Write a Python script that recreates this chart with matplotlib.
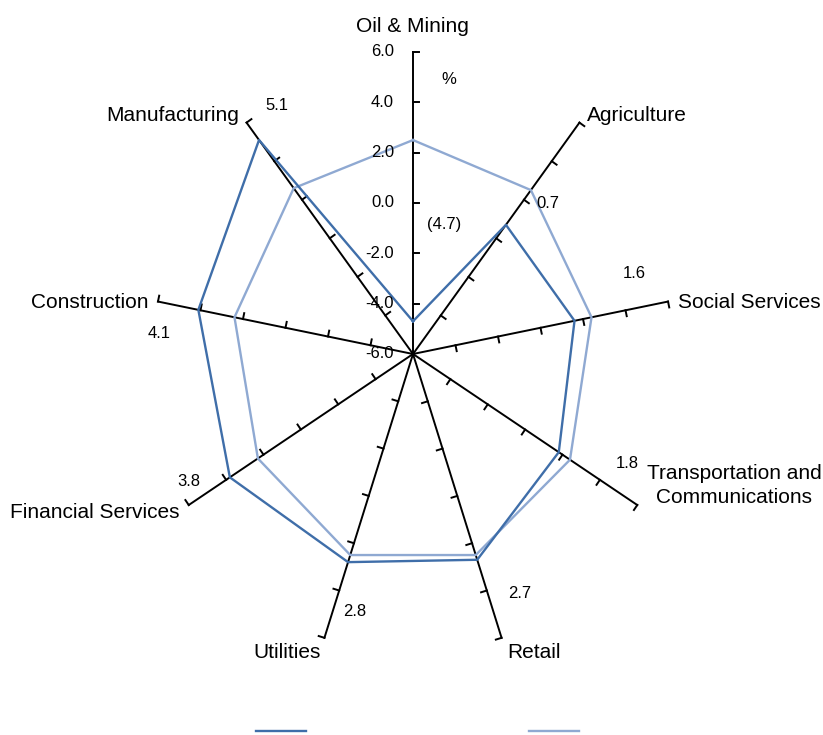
import numpy as np
import matplotlib.pyplot as plt
from matplotlib.lines import Line2D

plt.rcParams['font.family'] = ['Liberation Sans', 'DejaVu Sans']

# data
categories = ['Oil & Mining', 'Agriculture', 'Social Services',
               'Transportation and\nCommunications', 'Retail', 'Utilities',
               'Financial Services', 'Construction', 'Manufacturing']
series_dark = [-4.7, 0.7, 1.6, 1.8, 2.7, 2.8, 3.8, 4.1, 5.1]
series_light = [2.5, 2.5, 2.4, 2.4, 2.5, 2.5, 2.3, 2.4, 2.6]
scale_ticks = [-6.0, -4.0, -2.0, 0.0, 2.0, 4.0, 6.0]
rmin, rmax = -6.0, 6.0

dark = '#3F6EA9'
light = '#8FA9D2'

W, H = 823, 735
cx, cy = 413, 354          # centre in pixels (from top)
sx, sy = 21.58, 25.17      # pixels per unit, x and y

fig = plt.figure(figsize=(W / 100, H / 100), dpi=100)
ax = fig.add_axes([0, 0, 1, 1])
ax.set_xlim(-cx / sx, (W - cx) / sx)
ax.set_ylim(-(H - cy) / sy, cy / sy)
ax.axis('off')

n = len(categories)
theta = np.deg2rad(90 - 40 * np.arange(n))


def xy(vals, th):
    r = np.asarray(vals) - rmin
    return r * np.cos(th), r * np.sin(th)


def px(x, y):
    # pixel position (from top-left) -> data
    return (x - cx) / sx, (cy - y) / sy


# axes spokes with ticks on the clockwise side
for th in theta:
    ex, ey = xy(rmax, th)
    ax.plot([0, ex], [0, ey], color='black', lw=1.4, zorder=2)
    d = np.array([np.cos(th) * sx, np.sin(th) * sy])
    d /= np.hypot(*d)
    perp = np.array([d[1], -d[0]]) * 6
    for t in scale_ticks[1:]:
        tx, ty = xy(t, th)
        ax.plot([tx, tx + perp[0] / sx], [ty, ty + perp[1] / sy],
                color='black', lw=1.4, zorder=2)

# series
th_c = np.append(theta, theta[0])
for vals, col in [(series_light, light), (series_dark, dark)]:
    v = np.append(vals, vals[0])
    x, y = xy(v, th_c)
    ax.plot(x, y, color=col, lw=1.7, zorder=3)

# scale labels on the top spoke
for t in scale_ticks:
    _, ty = xy(t, np.pi / 2)
    ax.text(px(394, 0)[0], ty, f'{t:.1f}', ha='right', va='center', fontsize=12)
ax.text(*px(449, 80), '%', ha='center', va='center', fontsize=12)

# data labels
label_pos = [(444, 225), (548, 204), (634, 273), (627, 463), (520, 593),
             (355, 611), (189, 482), (159, 333), (277, 106)]
for v, p in zip(series_dark, label_pos):
    s = f'({abs(v):.1f})' if v < 0 else f'{v:.1f}'
    ax.text(*px(*p), s, ha='center', va='center', fontsize=12)

# category labels
cat_pos = [(412, 32, 'center'), (587, 121, 'left'), (678, 308, 'left'),
           (734, 503, 'center'), (507, 658, 'left'), (321, 658, 'right'),
           (180, 518, 'right'), (148, 308, 'right'), (239, 121, 'right')]
for c, (x, y, ha) in zip(categories, cat_pos):
    ax.text(*px(x, y), c, ha=ha, va='baseline', fontsize=15,
            multialignment='center', linespacing=1.35)

# legend (no text)
handles = [Line2D([], [], color=dark, lw=1.7), Line2D([], [], color=light, lw=1.7)]
fig.legend(handles, ['', ''], ncol=2, loc='center', frameon=False,
           bbox_to_anchor=(417.5 / W, 2 / H), fontsize=13,
           handlelength=2.75, handletextpad=0, columnspacing=12.4,
           borderpad=0, borderaxespad=0)

fig.savefig('out.png', dpi=100)
